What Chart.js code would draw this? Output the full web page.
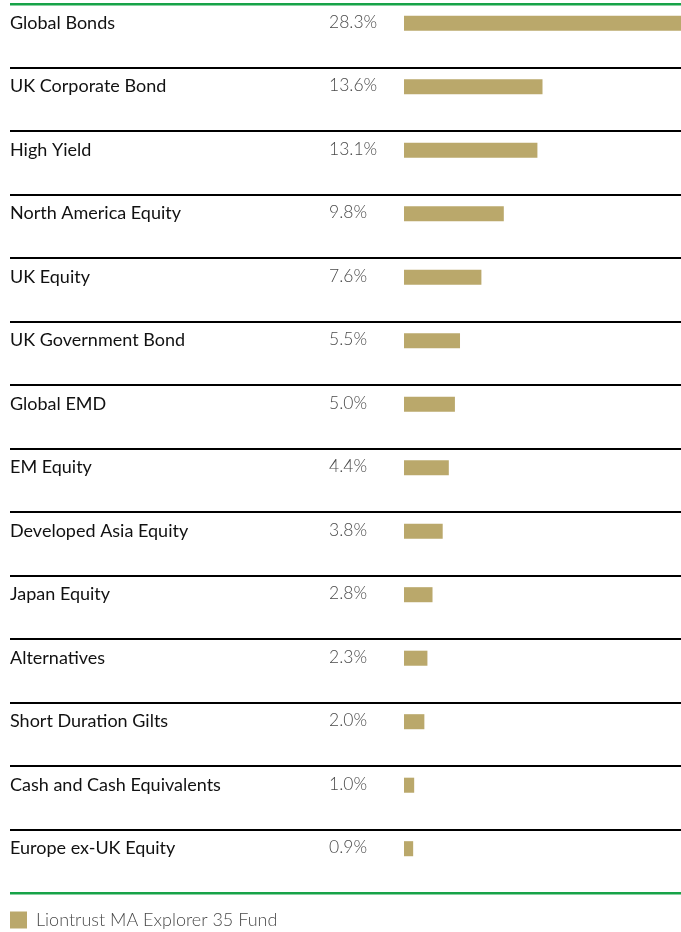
<!DOCTYPE html>
<html>
<head>
<meta charset="utf-8">
<script src="https://cdn.jsdelivr.net/npm/chart.js@4/dist/chart.umd.min.js"></script>
<style>
html,body{margin:0;padding:0;background:#fff;}
#wrap{width:681px;height:932px;position:relative;}
</style>
</head>
<body>
<div id="wrap"><canvas id="c"></canvas></div>
<script>
const categories = [
  'Global Bonds','UK Corporate Bond','High Yield','North America Equity','UK Equity',
  'UK Government Bond','Global EMD','EM Equity','Developed Asia Equity','Japan Equity',
  'Alternatives','Short Duration Gilts','Cash and Cash Equivalents','Europe ex-UK Equity'
];
const values = [28.3, 13.6, 13.1, 9.8, 7.6, 5.5, 5.0, 4.4, 3.8, 2.8, 2.3, 2.0, 1.0, 0.9];
const valueLabels = values.map(v => v.toFixed(1) + '%');
const seriesName = 'Liontrust MA Explorer 35 Fund';

const GOLD = '#baa86b';
const GREEN = '#17a348';
const LINE = '#000000';

const valueLabelPlugin = {
  id: 'valueLabels',
  afterDatasetsDraw(chart) {
    const ctx = chart.ctx;
    const meta = chart.getDatasetMeta(0);
    const x = chart.chartArea.left - 75;
    ctx.save();
    ctx.font = '300 17.5px Lato';
    ctx.fillStyle = '#4a4a4a';
    ctx.textAlign = 'left';
    ctx.textBaseline = 'middle';
    meta.data.forEach((bar, i) => {
      ctx.fillText(valueLabels[i], x, bar.y - 1);
    });
    ctx.restore();
  }
};

const lineColor = c => (c.index === 0 || c.index === undefined) ? GREEN : LINE;
const lineW = c => (c.index === 0 || c.index === undefined) ? 2.5 : 2;

new Chart(document.getElementById('c'), {
  type: 'bar',
  data: {
    labels: categories,
    datasets: [
      { label: seriesName, data: values, backgroundColor: GOLD, borderWidth: 0,
        categoryPercentage: 0.79, barPercentage: 0.6 },
      { label: '', data: [], backgroundColor: 'rgba(0,0,0,0)',
        categoryPercentage: 0.79, barPercentage: 0.6 }
    ]
  },
  options: {
    indexAxis: 'y',
    responsive: true,
    maintainAspectRatio: false,
    animation: false,
    layout: { padding: { left: 10, right: 0, top: 4, bottom: 0 } },
    scales: {
      x: {
        display: true, min: 0, max: 27.2,
        grid: { display: false },
        border: { display: false },
        ticks: { display: false },
        afterFit: s => { s.height = 18; s.paddingLeft = 0; s.paddingRight = 0; }
      },
      y: {
        type: 'category',
        offset: true,
        grid: { offset: true, color: lineColor, tickColor: lineColor, lineWidth: lineW,
                drawTicks: true, tickLength: 394 },
        border: { display: false },
        ticks: { crossAlign: 'far', labelOffset: -13, color: '#111', padding: 0,
                 font: { family: 'Lato', size: 18 } },
        afterFit: s => { s.width = 394; s.paddingTop = 0; s.paddingBottom = 0; }
      }
    },
    plugins: {
      legend: {
        position: 'bottom', align: 'start', maxHeight: 21,
        labels: {
          boxWidth: 17, boxHeight: 17, padding: 0, color: '#4a4a4a',
          font: { family: 'Lato', size: 18, weight: '300' },
          filter: item => item.datasetIndex === 0
        }
      },
      tooltip: { enabled: false }
    }
  },
  plugins: [valueLabelPlugin]
});
</script>
</body>
</html>
